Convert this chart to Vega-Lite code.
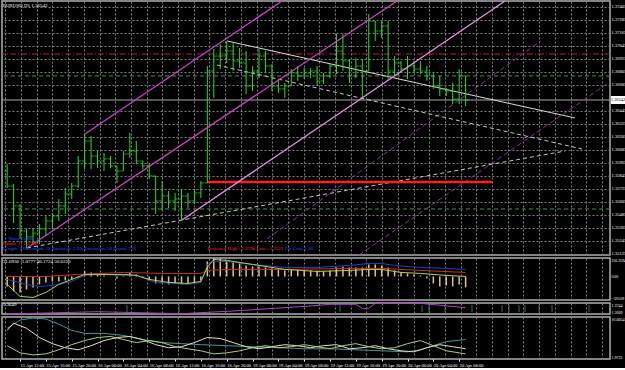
{
"$schema": "https://vega.github.io/schema/vega-lite/v6.json",
"background": "black",
"padding": 0,
"spacing": 3,
"bounds": "flush",
"config": {
  "view": {"stroke": "#b0b0b0", "strokeWidth": 1.5},
  "concat": {"spacing": 3},
  "axis": {"labelColor": "#ffffff", "labelFont": "Liberation Sans Narrow", "labelFontSize": 4.5, "domain": false, "ticks": false, "gridColor": "#808080", "gridDash": [2, 2], "gridWidth": 1, "title": null, "labelOverlap": false, "tickCount": 200}
},
"datasets": {
  "bars": [
{"b":2,"o":1.35891,"h":1.35955,"l":1.35734,"c":1.35752},
{"b":3,"o":1.35752,"h":1.35771,"l":1.35411,"c":1.35568},
{"b":4,"o":1.35568,"h":1.35586,"l":1.35263,"c":1.35337},
{"b":5,"o":1.35337,"h":1.35355,"l":1.35180,"c":1.35282},
{"b":6,"o":1.35282,"h":1.35365,"l":1.35217,"c":1.35318},
{"b":7,"o":1.35318,"h":1.35402,"l":1.35217,"c":1.35355},
{"b":8,"o":1.35355,"h":1.35475,"l":1.35291,"c":1.35429},
{"b":9,"o":1.35429,"h":1.35503,"l":1.35355,"c":1.35475},
{"b":10,"o":1.35475,"h":1.35632,"l":1.35429,"c":1.35568},
{"b":11,"o":1.35568,"h":1.35734,"l":1.35494,"c":1.35678},
{"b":12,"o":1.35678,"h":1.35780,"l":1.35632,"c":1.35752},
{"b":13,"o":1.35752,"h":1.36029,"l":1.35734,"c":1.35983},
{"b":14,"o":1.35983,"h":1.36232,"l":1.35909,"c":1.36168},
{"b":15,"o":1.36168,"h":1.36214,"l":1.35909,"c":1.36029},
{"b":16,"o":1.36029,"h":1.36075,"l":1.35918,"c":1.35983},
{"b":17,"o":1.35983,"h":1.36057,"l":1.35891,"c":1.36002},
{"b":18,"o":1.36002,"h":1.36029,"l":1.35918,"c":1.35937},
{"b":19,"o":1.35937,"h":1.35937,"l":1.35780,"c":1.35891},
{"b":20,"o":1.35891,"h":1.36075,"l":1.35891,"c":1.36048},
{"b":21,"o":1.36048,"h":1.36242,"l":1.36011,"c":1.36075},
{"b":22,"o":1.36075,"h":1.36168,"l":1.35955,"c":1.35983},
{"b":23,"o":1.35983,"h":1.35983,"l":1.35909,"c":1.35937},
{"b":24,"o":1.35937,"h":1.35955,"l":1.35817,"c":1.35845},
{"b":25,"o":1.35845,"h":1.35845,"l":1.35494,"c":1.35614},
{"b":26,"o":1.35614,"h":1.35798,"l":1.35522,"c":1.35660},
{"b":27,"o":1.35660,"h":1.35706,"l":1.35549,"c":1.35614},
{"b":28,"o":1.35614,"h":1.35688,"l":1.35522,"c":1.35632},
{"b":29,"o":1.35632,"h":1.35725,"l":1.35429,"c":1.35660},
{"b":30,"o":1.35660,"h":1.35688,"l":1.35549,"c":1.35614},
{"b":31,"o":1.35614,"h":1.35725,"l":1.35586,"c":1.35688},
{"b":32,"o":1.35688,"h":1.35798,"l":1.35642,"c":1.35780},
{"b":33,"o":1.35780,"h":1.36860,"l":1.35780,"c":1.36814},
{"b":34,"o":1.36814,"h":1.37017,"l":1.36565,"c":1.36952},
{"b":35,"o":1.36952,"h":1.37063,"l":1.36832,"c":1.36952},
{"b":36,"o":1.36952,"h":1.37091,"l":1.36888,"c":1.36998},
{"b":37,"o":1.36998,"h":1.37072,"l":1.36814,"c":1.36906},
{"b":38,"o":1.36906,"h":1.37026,"l":1.36842,"c":1.36888},
{"b":39,"o":1.36888,"h":1.36998,"l":1.36602,"c":1.36675},
{"b":40,"o":1.36675,"h":1.36860,"l":1.36629,"c":1.36814},
{"b":41,"o":1.36814,"h":1.37017,"l":1.36749,"c":1.36952},
{"b":42,"o":1.36952,"h":1.36998,"l":1.36795,"c":1.36860},
{"b":43,"o":1.36860,"h":1.36878,"l":1.36629,"c":1.36675},
{"b":44,"o":1.36675,"h":1.36740,"l":1.36611,"c":1.36648},
{"b":45,"o":1.36648,"h":1.36703,"l":1.36565,"c":1.36675},
{"b":46,"o":1.36675,"h":1.36832,"l":1.36675,"c":1.36795},
{"b":47,"o":1.36795,"h":1.36860,"l":1.36722,"c":1.36768},
{"b":48,"o":1.36768,"h":1.36842,"l":1.36740,"c":1.36795},
{"b":49,"o":1.36795,"h":1.36842,"l":1.36749,"c":1.36814},
{"b":50,"o":1.36814,"h":1.36860,"l":1.36675,"c":1.36722},
{"b":51,"o":1.36722,"h":1.36795,"l":1.36694,"c":1.36768},
{"b":52,"o":1.36768,"h":1.36878,"l":1.36749,"c":1.36860},
{"b":53,"o":1.36860,"h":1.37155,"l":1.36786,"c":1.36998},
{"b":54,"o":1.36998,"h":1.37155,"l":1.36814,"c":1.36906},
{"b":55,"o":1.36906,"h":1.36925,"l":1.36703,"c":1.36768},
{"b":56,"o":1.36768,"h":1.36934,"l":1.36749,"c":1.36860},
{"b":57,"o":1.36860,"h":1.36925,"l":1.36565,"c":1.36814},
{"b":58,"o":1.36814,"h":1.37340,"l":1.36814,"c":1.37275},
{"b":59,"o":1.37275,"h":1.37275,"l":1.37091,"c":1.37183},
{"b":60,"o":1.37183,"h":1.37275,"l":1.37118,"c":1.37229},
{"b":61,"o":1.37229,"h":1.37275,"l":1.36740,"c":1.36814},
{"b":62,"o":1.36814,"h":1.36952,"l":1.36768,"c":1.36888},
{"b":63,"o":1.36888,"h":1.36906,"l":1.36795,"c":1.36832},
{"b":64,"o":1.36832,"h":1.36952,"l":1.36740,"c":1.36860},
{"b":65,"o":1.36860,"h":1.36906,"l":1.36795,"c":1.36832},
{"b":66,"o":1.36832,"h":1.36906,"l":1.36786,"c":1.36814},
{"b":67,"o":1.36814,"h":1.36860,"l":1.36722,"c":1.36768},
{"b":68,"o":1.36768,"h":1.36795,"l":1.36648,"c":1.36675},
{"b":69,"o":1.36675,"h":1.36768,"l":1.36583,"c":1.36648},
{"b":70,"o":1.36648,"h":1.36657,"l":1.36583,"c":1.36629},
{"b":71,"o":1.36629,"h":1.36703,"l":1.36509,"c":1.36555},
{"b":72,"o":1.36555,"h":1.36832,"l":1.36509,"c":1.36768},
{"b":73,"o":1.36768,"h":1.36768,"l":1.36491,"c":1.36546}
  ],
  "hlines": [
    {"name": "level1", "price": 1.36971},
    {"name": "level2", "price": 1.36768},
    {"name": "bid", "price": 1.36546},
    {"name": "level3", "price": 1.35540}
  ],
  "segs": [
    {"kind": "channel", "x1": 14.05, "p1": 1.36232, "x2": 44.56, "p2": 1.37460},
    {"kind": "channel", "x1": 5.07, "p1": 1.35180, "x2": 62.37, "p2": 1.37460},
    {"kind": "channel2", "x1": 29.08, "p1": 1.35438, "x2": 79.10, "p2": 1.37460},
    {"kind": "fib", "x1": 42.24, "p1": 1.35263, "x2": 84.62, "p2": 1.37091},
    {"kind": "fib", "x1": 56.49, "p1": 1.35115, "x2": 95.36, "p2": 1.36714},
    {"kind": "trend", "x1": 36.05, "p1": 1.37091, "x2": 89.94, "p2": 1.36380},
    {"kind": "trendDash", "x1": 34.5, "p1": 1.36869, "x2": 91.02, "p2": 1.36094},
    {"kind": "trendDash", "x1": 5.07, "p1": 1.35180, "x2": 88.39, "p2": 1.36075},
    {"kind": "proj", "x1": 32.95, "p1": 1.35789, "x2": 77.09, "p2": 1.35789}
  ],
  "mainText": [
    {"k": "white", "b": 1.3, "p": 1.37420, "t": "EURUSD,H1  1.36542"},
    {"k": "blue", "b": 2.2, "p": 1.35272, "t": "Wave Count"},
    {"k": "red", "b": 1.3, "p": 1.35226, "t": "Upside 1: 1.3798"},
    {"k": "blue", "b": 1.3, "p": 1.35180, "t": "Length: 4    Deviation: 12    Backstep: 3    Fib Extension: 50    Pivots: 770"},
    {"k": "red", "b": 33.0, "p": 1.35180, "t": "Projected High : 1.3798    Low : 1.3521"},
    {"k": "blue", "b": 45.0, "p": 1.35180, "t": "Fib Cost: 1.00"}
  ],
  "priceBox": [
    {"b1": 95.5, "b2": 97.7, "p1": 1.36583, "p2": 1.36509, "bm": 96.6, "p": 1.36546, "t": "1.36542"}
  ],
  "hist": [
{"b":2,"v":-135.8},{"b":3,"v":-203.7},{"b":4,"v":-217.3},{"b":5,"v":-176.5},{"b":6,"v":-149.4},{"b":7,"v":-108.6},{"b":8,"v":-81.5},{"b":9,"v":-67.9},{"b":10,"v":-67.9},{"b":11,"v":-54.3},{"b":12,"v":-40.7},{"b":13,"v":-13.6},{"b":14,"v":67.9},{"b":15,"v":54.3},{"b":16,"v":27.2},{"b":17,"v":13.6},{"b":18,"v":2},{"b":19,"v":-27.2},{"b":20,"v":13.6},{"b":21,"v":54.3},{"b":22,"v":27.2},{"b":23,"v":-13.6},{"b":24,"v":-54.3},{"b":25,"v":-95.1},{"b":26,"v":-95.1},{"b":27,"v":-108.6},{"b":28,"v":-95.1},{"b":29,"v":-108.6},{"b":30,"v":-95.1},{"b":31,"v":-81.5},{"b":32,"v":-54.3},{"b":33,"v":203.7},{"b":34,"v":248},{"b":35,"v":244.4},{"b":36,"v":217.3},{"b":37,"v":190.1},{"b":38,"v":176.5},{"b":39,"v":149.4},{"b":40,"v":135.8},{"b":41,"v":135.8},{"b":42,"v":122.2},{"b":43,"v":108.6},{"b":44,"v":95.1},{"b":45,"v":81.5},{"b":46,"v":95.1},{"b":47,"v":95.1},{"b":48,"v":81.5},{"b":49,"v":81.5},{"b":50,"v":81.5},{"b":51,"v":67.9},{"b":52,"v":81.5},{"b":53,"v":122.2},{"b":54,"v":135.8},{"b":55,"v":122.2},{"b":56,"v":122.2},{"b":57,"v":122.2},{"b":58,"v":163},{"b":59,"v":163},{"b":60,"v":149.4},{"b":61,"v":122.2},{"b":62,"v":81.5},{"b":63,"v":54.3},{"b":64,"v":40.7},{"b":65,"v":27.2},{"b":66,"v":13.6},{"b":67,"v":-27.2},{"b":68,"v":-95.1},{"b":69,"v":-135.8},{"b":70,"v":-122.2},{"b":71,"v":-135.8},{"b":72,"v":-108.6},{"b":73,"v":-149.4}
  ],
  "osc": [
{"s":"red","b":2,"v":0},{"s":"red","b":8,"v":0},{"s":"red","b":13,"v":27.2},{"s":"red","b":20,"v":54.3},{"s":"red","b":26,"v":40.7},{"s":"red","b":32,"v":40.7},{"s":"red","b":33,"v":81.5},{"s":"red","b":36,"v":95.1},{"s":"red","b":45,"v":95.1},{"s":"red","b":55,"v":108.6},{"s":"red","b":60,"v":108.6},{"s":"red","b":66,"v":81.5},{"s":"red","b":73,"v":54.3},
{"s":"blue","b":2,"v":-40.7},{"s":"blue","b":5,"v":-108.6},{"s":"blue","b":7,"v":-135.8},{"s":"blue","b":9,"v":-122.2},{"s":"blue","b":12,"v":-67.9},{"s":"blue","b":14,"v":13.6},{"s":"blue","b":16,"v":27.2},{"s":"blue","b":20,"v":13.6},{"s":"blue","b":22,"v":13.6},{"s":"blue","b":25,"v":-81.5},{"s":"blue","b":28,"v":-95.1},{"s":"blue","b":30,"v":-108.6},{"s":"blue","b":32,"v":-81.5},{"s":"blue","b":33,"v":163},{"s":"blue","b":34,"v":203.7},{"s":"blue","b":36,"v":203.7},{"s":"blue","b":40,"v":163},{"s":"blue","b":45,"v":122.2},{"s":"blue","b":50,"v":122.2},{"s":"blue","b":55,"v":149.4},{"s":"blue","b":58,"v":176.5},{"s":"blue","b":60,"v":176.5},{"s":"blue","b":62,"v":149.4},{"s":"blue","b":66,"v":122.2},{"s":"blue","b":70,"v":108.6},{"s":"blue","b":73,"v":95.1},
{"s":"yg","b":2,"v":-108.6},{"s":"yg","b":4,"v":-271.6},{"s":"yg","b":6,"v":-285.2},{"s":"yg","b":8,"v":-217.3},{"s":"yg","b":10,"v":-108.6},{"s":"yg","b":12,"v":-40.7},{"s":"yg","b":14,"v":27.2},{"s":"yg","b":16,"v":27.2},{"s":"yg","b":20,"v":27.2},{"s":"yg","b":22,"v":13.6},{"s":"yg","b":24,"v":-40.7},{"s":"yg","b":27,"v":-81.5},{"s":"yg","b":30,"v":-95.1},{"s":"yg","b":32,"v":-67.9},{"s":"yg","b":33,"v":122.2},{"s":"yg","b":34,"v":230.9},{"s":"yg","b":36,"v":217.3},{"s":"yg","b":40,"v":163},{"s":"yg","b":45,"v":95.1},{"s":"yg","b":50,"v":67.9},{"s":"yg","b":55,"v":81.5},{"s":"yg","b":58,"v":95.1},{"s":"yg","b":60,"v":95.1},{"s":"yg","b":63,"v":54.3},{"s":"yg","b":66,"v":40.7},{"s":"yg","b":70,"v":13.6},{"s":"yg","b":73,"v":0}
  ],
  "ma": [
{"b":2,"v":1.35921},{"b":16,"v":1.36309},{"b":29,"v":1.35972},{"b":37,"v":1.36428},{"b":49,"v":1.37271},{"b":52,"v":1.37558},{"b":56,"v":1.37558},{"b":57,"v":1.36883},{"b":58,"v":1.36883},{"b":59,"v":1.37727},{"b":66,"v":1.37727},{"b":70,"v":1.37300},{"b":73,"v":1.36984}
  ],
  "marks2": [
{"b":20.56,"v":1.3685},{"b":28.61,"v":1.3685},{"b":53.55,"v":1.3685},{"b":66.25,"v":1.3685},{"b":67.33,"v":1.3685},{"b":69.81,"v":1.3685},{"b":73.99,"v":1.3685},{"b":78.64,"v":1.3685},{"b":79.72,"v":1.3685},{"b":81.27,"v":1.3685},{"b":82.2,"v":1.3685},{"b":84.37,"v":1.3685},{"b":86.38,"v":1.3685},{"b":92.11,"v":1.3685}
  ],
  "adx": [
{"s":"teal","b":2,"v":12.240},{"s":"teal","b":4,"v":14.978},{"s":"teal","b":6,"v":15.663},{"s":"teal","b":8,"v":15.321},{"s":"teal","b":10,"v":13.610},{"s":"teal","b":12,"v":11.556},{"s":"teal","b":14,"v":10.529},{"s":"teal","b":17,"v":10.529},{"s":"teal","b":20,"v":9.845},{"s":"teal","b":23,"v":8.476},{"s":"teal","b":26,"v":7.449},{"s":"teal","b":29,"v":7.106},{"s":"teal","b":32,"v":6.764},{"s":"teal","b":36,"v":6.422},{"s":"teal","b":40,"v":6.080},{"s":"teal","b":44,"v":5.737},{"s":"teal","b":48,"v":5.395},{"s":"teal","b":52,"v":5.395},{"s":"teal","b":56,"v":5.053},{"s":"teal","b":60,"v":4.711},{"s":"teal","b":64,"v":4.368},{"s":"teal","b":66,"v":5.053},{"s":"teal","b":68,"v":6.422},{"s":"teal","b":70,"v":7.791},{"s":"teal","b":73,"v":8.476},
{"s":"beige","b":2,"v":11.556},{"s":"beige","b":3,"v":13.952},{"s":"beige","b":5,"v":12.240},{"s":"beige","b":7,"v":9.160},{"s":"beige","b":9,"v":7.106},{"s":"beige","b":11,"v":5.737},{"s":"beige","b":13,"v":5.053},{"s":"beige","b":15,"v":6.422},{"s":"beige","b":17,"v":8.133},{"s":"beige","b":19,"v":9.160},{"s":"beige","b":21,"v":9.503},{"s":"beige","b":23,"v":8.476},{"s":"beige","b":25,"v":6.764},{"s":"beige","b":27,"v":5.737},{"s":"beige","b":29,"v":6.080},{"s":"beige","b":31,"v":7.449},{"s":"beige","b":33,"v":9.160},{"s":"beige","b":35,"v":8.818},{"s":"beige","b":37,"v":7.449},{"s":"beige","b":39,"v":6.080},{"s":"beige","b":41,"v":5.395},{"s":"beige","b":43,"v":6.080},{"s":"beige","b":45,"v":6.764},{"s":"beige","b":47,"v":6.422},{"s":"beige","b":49,"v":5.737},{"s":"beige","b":51,"v":6.422},{"s":"beige","b":53,"v":6.764},{"s":"beige","b":55,"v":5.395},{"s":"beige","b":57,"v":5.737},{"s":"beige","b":59,"v":6.422},{"s":"beige","b":61,"v":5.395},{"s":"beige","b":63,"v":4.711},{"s":"beige","b":65,"v":4.368},{"s":"beige","b":67,"v":5.737},{"s":"beige","b":69,"v":6.764},{"s":"beige","b":71,"v":6.080},{"s":"beige","b":73,"v":5.395},
{"s":"green","b":2,"v":6.422},{"s":"green","b":4,"v":4.026},{"s":"green","b":6,"v":3.341},{"s":"green","b":8,"v":3.684},{"s":"green","b":10,"v":5.053},{"s":"green","b":12,"v":6.764},{"s":"green","b":14,"v":8.133},{"s":"green","b":16,"v":9.160},{"s":"green","b":18,"v":9.503},{"s":"green","b":20,"v":8.476},{"s":"green","b":22,"v":7.449},{"s":"green","b":24,"v":8.133},{"s":"green","b":26,"v":7.449},{"s":"green","b":28,"v":6.080},{"s":"green","b":30,"v":5.395},{"s":"green","b":32,"v":4.711},{"s":"green","b":34,"v":3.684},{"s":"green","b":36,"v":4.026},{"s":"green","b":38,"v":4.711},{"s":"green","b":40,"v":5.737},{"s":"green","b":42,"v":6.422},{"s":"green","b":44,"v":5.737},{"s":"green","b":46,"v":6.080},{"s":"green","b":48,"v":6.764},{"s":"green","b":50,"v":6.080},{"s":"green","b":52,"v":5.395},{"s":"green","b":54,"v":6.422},{"s":"green","b":56,"v":7.106},{"s":"green","b":58,"v":6.080},{"s":"green","b":60,"v":5.395},{"s":"green","b":62,"v":5.737},{"s":"green","b":64,"v":7.106},{"s":"green","b":66,"v":8.133},{"s":"green","b":68,"v":6.422},{"s":"green","b":70,"v":4.711},{"s":"green","b":72,"v":4.026},{"s":"green","b":73,"v":3.684}
  ]
},
"vconcat": [
  {
    "width": 608, "height": 254,
    "layer": [
      {"data": {"name": "hlines"}, "transform": [{"filter": "datum.name === 'level1'"}],
       "mark": {"type": "rule", "color": "#b02828", "strokeDash": [6, 2, 1, 2], "strokeWidth": 1},
       "encoding": {
         "y": {"field": "price", "type": "quantitative", "scale": {"domain": [1.35115, 1.3746], "nice": false, "zero": false},
               "axis": {"orient": "right", "grid": true, "format": ".5f", "labelPadding": 1, "labelOverlap": false, "tickCount": 200, "minExtent": 0, "values": [1.35125,1.35245,1.35365,1.35485,1.35605,1.35725,1.35845,1.35965,1.36085,1.36205,1.36325,1.36445,1.36685,1.36805,1.36925,1.37045,1.37165,1.37285,1.37405]}}
       }},
      {"data": {"name": "hlines"}, "transform": [{"filter": "datum.name === 'level2' || datum.name === 'level3'"}],
       "mark": {"type": "rule", "color": "#4f8f4f", "strokeDash": [4, 3], "strokeWidth": 1},
       "encoding": {"y": {"field": "price", "type": "quantitative"}}},
      {"data": {"name": "hlines"}, "transform": [{"filter": "datum.name === 'bid'"}],
       "mark": {"type": "rule", "color": "#a8a8a8", "strokeWidth": 1},
       "encoding": {"y": {"field": "price", "type": "quantitative"}}},
      {"data": {"name": "segs"}, "transform": [{"filter": "datum.kind === 'fib'"}],
       "mark": {"type": "rule", "color": "#8e2ea0", "strokeDash": [5, 3], "strokeWidth": 1, "clip": true},
       "encoding": {
         "x": {"field": "x1", "type": "quantitative", "scale": {"domain": [1.2, 95.36], "nice": false, "zero": false},
               "axis": {"labels": false, "grid": true, "tickCount": 200, "minExtent": 0, "maxExtent": 0, "labelPadding": 0, "values": [1.711,4.143,6.574,9.006,11.437,13.869,16.3,18.732,21.163,23.595,26.026,28.458,30.889,33.321,35.752,38.184,40.615,43.047,45.478,47.91,50.341,52.773,55.204,57.636,60.067,62.499,64.93,67.362,69.793,72.225,74.656,77.088,79.519,81.951,84.382,86.814,89.245,91.677,94.108]}},
         "x2": {"field": "x2"},
         "y": {"field": "p1", "type": "quantitative"}, "y2": {"field": "p2"}}},
      {"data": {"name": "segs"}, "transform": [{"filter": "datum.kind === 'trendDash'"}],
       "mark": {"type": "rule", "color": "#c8c8c8", "strokeDash": [4, 3], "strokeWidth": 1, "clip": true},
       "encoding": {"x": {"field": "x1", "type": "quantitative"}, "x2": {"field": "x2"}, "y": {"field": "p1", "type": "quantitative"}, "y2": {"field": "p2"}}},
      {"data": {"name": "segs"}, "transform": [{"filter": "datum.kind === 'trend'"}],
       "mark": {"type": "rule", "color": "#d8d8d8", "strokeWidth": 1, "clip": true},
       "encoding": {"x": {"field": "x1", "type": "quantitative"}, "x2": {"field": "x2"}, "y": {"field": "p1", "type": "quantitative"}, "y2": {"field": "p2"}}},
      {"data": {"name": "segs"}, "transform": [{"filter": "datum.kind === 'proj'"}],
       "mark": {"type": "rule", "color": "#ff1c1c", "strokeWidth": 2.5, "clip": true},
       "encoding": {"x": {"field": "x1", "type": "quantitative"}, "x2": {"field": "x2"}, "y": {"field": "p1", "type": "quantitative"}, "y2": {"field": "p2"}}},
      {"data": {"name": "bars"},
       "mark": {"type": "rule", "color": "#22e022", "strokeWidth": 1},
       "encoding": {"x": {"field": "b", "type": "quantitative"}, "y": {"field": "l", "type": "quantitative"}, "y2": {"field": "h"}}},
      {"data": {"name": "bars"},
       "mark": {"type": "tick", "orient": "horizontal", "size": 3, "thickness": 1, "xOffset": -1.5, "color": "#22e022"},
       "encoding": {"x": {"field": "b", "type": "quantitative"}, "y": {"field": "o", "type": "quantitative"}}},
      {"data": {"name": "bars"},
       "mark": {"type": "tick", "orient": "horizontal", "size": 3, "thickness": 1, "xOffset": 1.5, "color": "#22e022"},
       "encoding": {"x": {"field": "b", "type": "quantitative"}, "y": {"field": "c", "type": "quantitative"}}},
      {"data": {"name": "segs"}, "transform": [{"filter": "datum.kind === 'channel'"}],
       "mark": {"type": "rule", "color": "#cc3fcc", "strokeWidth": 1.3, "clip": true},
       "encoding": {"x": {"field": "x1", "type": "quantitative"}, "x2": {"field": "x2"}, "y": {"field": "p1", "type": "quantitative"}, "y2": {"field": "p2"}}},
      {"data": {"name": "segs"}, "transform": [{"filter": "datum.kind === 'channel2'"}],
       "mark": {"type": "rule", "color": "#e68ee6", "strokeWidth": 1.3, "clip": true},
       "encoding": {"x": {"field": "x1", "type": "quantitative"}, "x2": {"field": "x2"}, "y": {"field": "p1", "type": "quantitative"}, "y2": {"field": "p2"}}},
      {"data": {"name": "priceBox"},
       "mark": {"type": "rect", "color": "#ffffff"},
       "encoding": {"x": {"field": "b1", "type": "quantitative"}, "x2": {"field": "b2"}, "y": {"field": "p1", "type": "quantitative"}, "y2": {"field": "p2"}}},
      {"data": {"name": "priceBox"},
       "mark": {"type": "text", "align": "center", "baseline": "middle", "font": "Liberation Sans Narrow", "fontSize": 4.5, "color": "#000000"},
       "encoding": {"x": {"field": "bm", "type": "quantitative"}, "y": {"field": "p", "type": "quantitative"}, "text": {"field": "t"}}},
      {"data": {"name": "mainText"}, "transform": [{"filter": "datum.k === 'white'"}],
       "mark": {"type": "text", "align": "left", "baseline": "middle", "font": "Liberation Sans Narrow", "fontSize": 5, "color": "#ffffff"},
       "encoding": {"x": {"field": "b", "type": "quantitative"}, "y": {"field": "p", "type": "quantitative"}, "text": {"field": "t"}}},
      {"data": {"name": "mainText"}, "transform": [{"filter": "datum.k === 'blue'"}],
       "mark": {"type": "text", "align": "left", "baseline": "middle", "font": "Liberation Sans Narrow", "fontSize": 5, "color": "#2f4fff"},
       "encoding": {"x": {"field": "b", "type": "quantitative"}, "y": {"field": "p", "type": "quantitative"}, "text": {"field": "t"}}},
      {"data": {"name": "mainText"}, "transform": [{"filter": "datum.k === 'red'"}],
       "mark": {"type": "text", "align": "left", "baseline": "middle", "font": "Liberation Sans Narrow", "fontSize": 5, "color": "#ff2a2a"},
       "encoding": {"x": {"field": "b", "type": "quantitative"}, "y": {"field": "p", "type": "quantitative"}, "text": {"field": "t"}}}
    ]
  },
  {
    "width": 608, "height": 42,
    "layer": [
      {"data": {"name": "hist"},
       "mark": {"type": "rule", "color": "#e3c08a", "strokeWidth": 1.5},
       "encoding": {
         "x": {"field": "b", "type": "quantitative", "scale": {"domain": [1.2, 95.36], "nice": false, "zero": false},
               "axis": {"labels": false, "grid": true, "tickCount": 200, "minExtent": 0, "maxExtent": 0, "labelPadding": 0, "values": [1.711,4.143,6.574,9.006,11.437,13.869,16.3,18.732,21.163,23.595,26.026,28.458,30.889,33.321,35.752,38.184,40.615,43.047,45.478,47.91,50.341,52.773,55.204,57.636,60.067,62.499,64.93,67.362,69.793,72.225,74.656,77.088,79.519,81.951,84.382,86.814,89.245,91.677,94.108]}},
         "y": {"field": "v", "type": "quantitative", "scale": {"domain": [-320.09, 250.3594], "nice": false, "zero": false},
               "axis": {"orient": "right", "grid": false, "labelPadding": 1, "labelFontSize": 3.8, "labelFlush": true, "labelOverlap": false, "tickCount": 200, "minExtent": 0, "values": [250.3594, 0, -320.09], "labelExpr": "datum.value === 0 ? '0.00' : (datum.value < 0 ? format(datum.value, '.2f') : format(datum.value, '.4f'))"}},
         "y2": {"datum": 0}}},
      {"data": {"name": "osc"}, "transform": [{"filter": "datum.s === 'red'"}],
       "mark": {"type": "line", "color": "#c8321e", "strokeWidth": 1},
       "encoding": {"x": {"field": "b", "type": "quantitative"}, "y": {"field": "v", "type": "quantitative"}}},
      {"data": {"name": "osc"}, "transform": [{"filter": "datum.s === 'blue'"}],
       "mark": {"type": "line", "color": "#2040c8", "strokeWidth": 1},
       "encoding": {"x": {"field": "b", "type": "quantitative"}, "y": {"field": "v", "type": "quantitative"}}},
      {"data": {"name": "osc"}, "transform": [{"filter": "datum.s === 'yg'"}],
       "mark": {"type": "line", "color": "#b4d24a", "strokeWidth": 1},
       "encoding": {"x": {"field": "b", "type": "quantitative"}, "y": {"field": "v", "type": "quantitative"}}},
      {"data": {"values": [{"b": 1.3, "v": 215, "t": "31.6936 -1.0777 46.1724 50.6220"}]},
       "mark": {"type": "text", "align": "left", "baseline": "middle", "font": "Liberation Sans Narrow", "fontSize": 5, "color": "#ffffff"},
       "encoding": {"x": {"field": "b", "type": "quantitative"}, "y": {"field": "v", "type": "quantitative"}, "text": {"field": "t"}}}
    ]
  },
  {
    "width": 608, "height": 11,
    "layer": [
      {"data": {"name": "ma"},
       "mark": {"type": "line", "color": "#b040d0", "strokeWidth": 1},
       "encoding": {
         "x": {"field": "b", "type": "quantitative", "scale": {"domain": [1.2, 95.36], "nice": false, "zero": false},
               "axis": {"labels": false, "grid": true, "tickCount": 200, "minExtent": 0, "maxExtent": 0, "labelPadding": 0, "values": [1.711,4.143,6.574,9.006,11.437,13.869,16.3,18.732,21.163,23.595,26.026,28.458,30.889,33.321,35.752,38.184,40.615,43.047,45.478,47.91,50.341,52.773,55.204,57.636,60.067,62.499,64.93,67.362,69.793,72.225,74.656,77.088,79.519,81.951,84.382,86.814,89.245,91.677,94.108]}},
         "y": {"field": "v", "type": "quantitative", "scale": {"domain": [1.3592, 1.3778], "nice": false, "zero": false},
               "axis": {"orient": "right", "grid": false, "labelPadding": 1, "labelFontSize": 4, "labelOverlap": false, "tickCount": 200, "minExtent": 0, "format": ".4f", "values": [1.3744, 1.3609]}}}},
      {"data": {"name": "marks2"},
       "mark": {"type": "tick", "orient": "vertical", "size": 7, "thickness": 1, "color": "#3aa6a6", "strokeDash": [1, 1]},
       "encoding": {"x": {"field": "b", "type": "quantitative"}, "y": {"field": "v", "type": "quantitative"}}},
      {"data": {"values": [{"b": 1.3, "v": 1.3760, "t": "1.3649"}]},
       "mark": {"type": "text", "align": "left", "baseline": "middle", "font": "Liberation Sans Narrow", "fontSize": 5, "color": "#ffffff"},
       "encoding": {"x": {"field": "b", "type": "quantitative"}, "y": {"field": "v", "type": "quantitative"}, "text": {"field": "t"}}}
    ]
  },
  {
    "width": 608, "height": 42,
    "layer": [
      {"data": {"name": "adx"}, "transform": [{"filter": "datum.s === 'teal'"}],
       "mark": {"type": "line", "color": "#3c9c9c", "strokeWidth": 1},
       "encoding": {
         "x": {"field": "b", "type": "quantitative", "scale": {"domain": [1.2, 95.36], "nice": false, "zero": false},
               "axis": {"grid": true, "labelAlign": "left", "labelPadding": 1, "labelFontSize": 4.5, "labelOverlap": false, "tickCount": 200, "minExtent": 0, "ticks": true, "tickSize": 2, "tickColor": "#ffffff",
                        "tickOpacity": {"condition": {"test": "datum.value % 1 !== 0", "value": 0}, "value": 1},
                        "gridOpacity": {"condition": {"test": "datum.value % 1 === 0", "value": 0}, "value": 1},
                        "labelExpr": "datum.value % 1 === 0 ? ['15 Apr 08:00','15 Apr 12:00','15 Apr 16:00','15 Apr 20:00','16 Apr 00:00','16 Apr 04:00','16 Apr 08:00','16 Apr 12:00','16 Apr 16:00','16 Apr 20:00','19 Apr 00:00','19 Apr 04:00','19 Apr 08:00','19 Apr 12:00','19 Apr 16:00','19 Apr 20:00','20 Apr 00:00','20 Apr 04:00','20 Apr 08:00'][datum.value / 4] : ''",
                        "values": [1.711,4.143,6.574,9.006,11.437,13.869,16.3,18.732,21.163,23.595,26.026,28.458,30.889,33.321,35.752,38.184,40.615,43.047,45.478,47.91,50.341,52.773,55.204,57.636,60.067,62.499,64.93,67.362,69.793,72.225,74.656,77.088,79.519,81.951,84.382,86.814,89.245,91.677,94.108,4,8,12,16,20,24,28,32,36,40,44,48,52,56,60,64,68,72]}},
         "y": {"field": "v", "type": "quantitative", "scale": {"domain": [1.9722, 16.0054], "nice": false, "zero": false},
               "axis": {"orient": "right", "grid": false, "labelPadding": 1, "labelFontSize": 4, "labelFlush": true, "labelOverlap": false, "tickCount": 200, "minExtent": 0, "format": ".4f", "values": [16.0054, 1.9722]}}}},
      {"data": {"name": "adx"}, "transform": [{"filter": "datum.s === 'beige'"}],
       "mark": {"type": "line", "color": "#e6dfbf", "strokeWidth": 1},
       "encoding": {"x": {"field": "b", "type": "quantitative"}, "y": {"field": "v", "type": "quantitative"}}},
      {"data": {"name": "adx"}, "transform": [{"filter": "datum.s === 'green'"}],
       "mark": {"type": "line", "color": "#a8cf7c", "strokeWidth": 1},
       "encoding": {"x": {"field": "b", "type": "quantitative"}, "y": {"field": "v", "type": "quantitative"}}}
    ]
  }
]
}
